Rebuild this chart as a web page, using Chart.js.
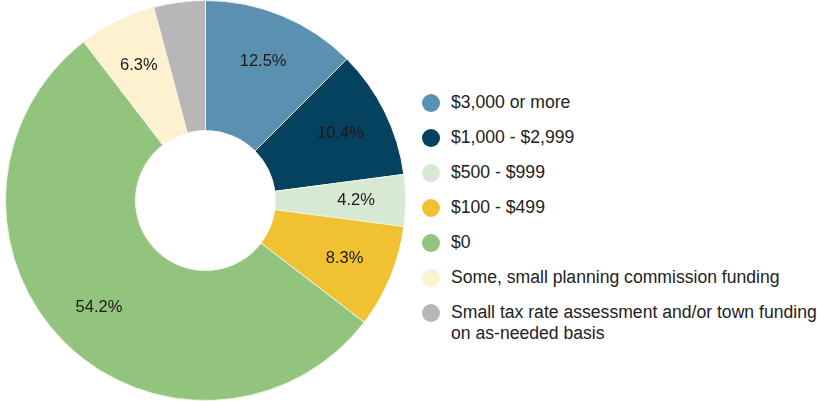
<!DOCTYPE html>
<html>
<head>
<meta charset="utf-8">
<script src="https://cdn.jsdelivr.net/npm/chart.js@4"></script>
<style>
  body { margin: 0; background: #fff; font-family: "Liberation Sans", Arial, sans-serif; }
  #wrap { position: absolute; left: 0; top: 0; width: 411px; height: 401px; }
  #legend { position: absolute; left: 422px; top: 92px; list-style: none; margin: 0; padding: 0; }
  #legend li { position: relative; padding-left: 29px; height: 35px; font-size: 17.6px; line-height: 21px; color: #222; white-space: nowrap; }
  #legend li span { position: absolute; left: 0; top: 2px; width: 18px; height: 18px; border-radius: 50%; }
</style>
</head>
<body>
<div id="wrap"><canvas id="donut"></canvas></div>
<ul id="legend"></ul>
<script>
// survey answers (count of towns)
var labels = [
    '$3,000 or more',
    '$1,000 - $2,999',
    '$500 - $999',
    '$100 - $499',
    '$0',
    'Some, small planning commission funding',
    ['Small tax rate assessment and/or town funding', 'on as-needed basis']
];
var counts = [6, 5, 2, 4, 26, 3, 2];
var colors = ['#5a91b1', '#05425f', '#d8e9d3', '#f0c232', '#93c47e', '#fef1cf', '#b7b7b7'];
var showPct = [true, true, true, true, true, true, false];

var pctLabels = {
    id: 'pctLabels',
    afterDatasetsDraw: function (chart) {
        var ctx = chart.ctx;
        var meta = chart.getDatasetMeta(0);
        var total = counts.reduce(function (a, b) { return a + b; }, 0);
        ctx.save();
        ctx.font = '16.5px "Liberation Sans", Arial, sans-serif';
        ctx.fillStyle = '#1a1a1a';
        ctx.textAlign = 'center';
        ctx.textBaseline = 'middle';
        meta.data.forEach(function (arc, i) {
            if (!showPct[i]) return;
            var p = arc.getProps(['x', 'y', 'startAngle', 'endAngle', 'innerRadius', 'outerRadius'], true);
            var a = (p.startAngle + p.endAngle) / 2;
            var r = p.innerRadius + 0.62 * (p.outerRadius - p.innerRadius);
            var txt = (counts[i] / total * 100).toFixed(1) + '%';
            ctx.fillText(txt, p.x + Math.cos(a) * r, p.y + Math.sin(a) * r);
        });
        ctx.restore();
    }
};

var ctx = document.getElementById('donut').getContext('2d');
var donut = new Chart(ctx, {
    type: 'doughnut',
    data: {
        labels: labels,
        datasets: [{
            data: counts,
            backgroundColor: colors,
            borderColor: '#f3f4e4',
            borderWidth: 1,
            hoverOffset: 0
        }]
    },
    options: {
        responsive: true,
        maintainAspectRatio: false,
        animation: false,
        cutout: '35%',
        layout: { padding: 0 },
        plugins: {
            legend: { display: false },
            tooltip: { enabled: false }
        }
    },
    plugins: [pctLabels]
});

// legend on the right
var ul = document.getElementById('legend');
labels.forEach(function (l, i) {
    var li = document.createElement('li');
    var dot = document.createElement('span');
    dot.style.background = colors[i];
    li.appendChild(dot);
    var text = Array.isArray(l) ? l : [l];
    text.forEach(function (t, j) {
        if (j > 0) li.appendChild(document.createElement('br'));
        li.appendChild(document.createTextNode(t));
    });
    ul.appendChild(li);
});
</script>
</body>
</html>
